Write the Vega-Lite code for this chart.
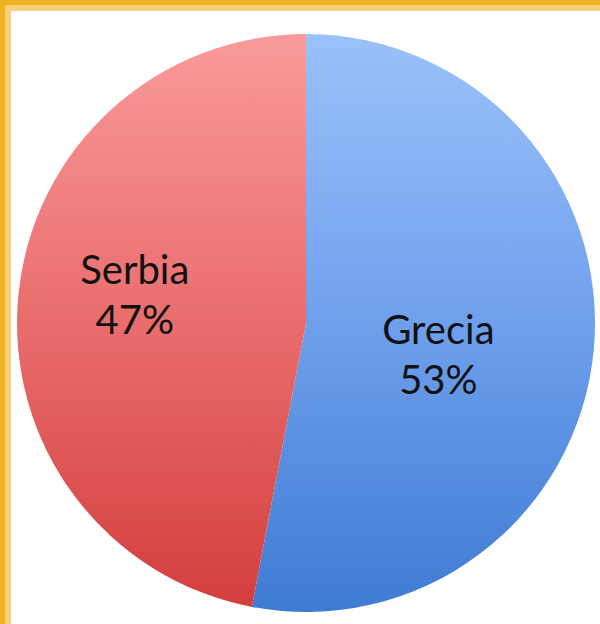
{
  "$schema": "https://vega.github.io/schema/vega-lite/v6.json",
  "width": 596,
  "height": 630,
  "padding": {"left": 8, "top": 8, "right": 0, "bottom": 0},
  "background": "#EFB223",
  "view": {"stroke": "#F7D07A", "strokeWidth": 6, "fill": "#FFFFFF", "fillOpacity": 1},
  "config": {"style": {"cell": {"stroke": "#F7D07A", "strokeWidth": 6, "fill": "#FFFFFF", "fillOpacity": 1}}},
  "data": {
    "values": [
      {"country": "Grecia", "value": 53, "label": ["Grecia", "53%"]},
      {"country": "Serbia", "value": 47, "label": ["Serbia", "47%"]}
    ]
  },
  "transform": [
    {"stack": "value", "groupby": [], "as": ["v0", "v1"], "sort": [{"field": "country", "order": "ascending"}]}
  ],
  "layer": [
    {
      "mark": {"type": "point", "opacity": 0},
      "encoding": {
        "x": {"field": "value", "type": "quantitative", "axis": null},
        "y": {"field": "value", "type": "quantitative", "axis": null}
      }
    },
    {
      "transform": [{"filter": "datum.country === 'Grecia'"}],
      "mark": {
        "type": "arc",
        "radius": 289,
        "color": {
          "gradient": "linear", "x1": 0, "y1": 0, "x2": 0, "y2": 1,
          "stops": [
            {"offset": 0, "color": "#9BC1FA"},
            {"offset": 0.5, "color": "#6FA0EC"},
            {"offset": 1, "color": "#3E7BD3"}
          ]
        }
      },
      "encoding": {
        "theta": {"field": "v0", "type": "quantitative", "scale": {"domain": [0, 100]}},
        "theta2": {"field": "v1"}
      }
    },
    {
      "transform": [{"filter": "datum.country === 'Serbia'"}],
      "mark": {
        "type": "arc",
        "radius": 289,
        "color": {
          "gradient": "linear", "x1": 0, "y1": 0, "x2": 0, "y2": 1,
          "stops": [
            {"offset": 0, "color": "#F99A9A"},
            {"offset": 0.5, "color": "#EA6D6D"},
            {"offset": 1, "color": "#D33E3E"}
          ]
        }
      },
      "encoding": {
        "theta": {"field": "v0", "type": "quantitative", "scale": {"domain": [0, 100]}},
        "theta2": {"field": "v1"}
      }
    },
    {
      "mark": {
        "type": "text",
        "font": "Lato",
        "fontSize": 40,
        "lineHeight": 50,
        "color": "#111111",
        "baseline": "middle",
        "align": "center",
        "radius": {"expr": "datum.country === 'Grecia' ? 136 : 173"},
        "dy": {"expr": "datum.country === 'Grecia' ? -4 : -35"},
        "dx": {"expr": "datum.country === 'Grecia' ? -3 : 1"}
      },
      "encoding": {
        "theta": {"field": "value", "type": "quantitative", "stack": true, "scale": {"domain": [0, 100]}},
        "detail": {"field": "country"},
        "text": {"field": "label"}
      }
    }
  ]
}
